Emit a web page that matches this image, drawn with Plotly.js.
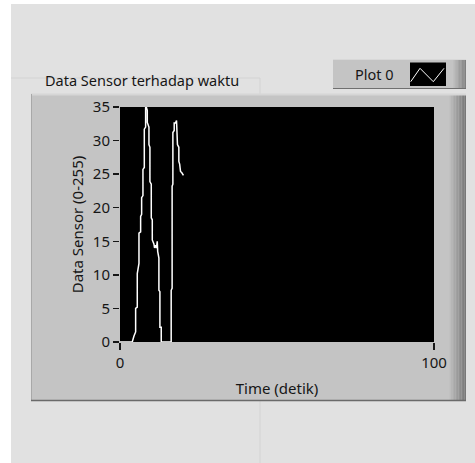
<!DOCTYPE html>
<html>
<head>
<meta charset="utf-8">
<script src="https://cdn.plot.ly/plotly-3.0.1.min.js"></script>
<style>html,body{margin:0;padding:0;background:#fff;}#chart{width:475px;height:463px;}</style>
</head>
<body>
<div id="chart"></div>
<script>
// ---- data ----
const seriesName = "Plot 0";
const chartLabel = "Data Sensor terhadap waktu";
const xTitle = "Time (detik)";
const yTitle = "Data Sensor (0-255)";
const xTickVals = [0, 100];
const timeSec = [0, 3.9, 4.45, 4.98, 4.98, 5.5, 5.5, 6.04, 6.04, 6.57, 6.57, 6.89, 6.89, 7.31, 7.31, 7.74, 7.74, 8.16, 8.16, 8.37,
  8.69, 8.69, 9.22, 9.22, 9.53, 9.53, 9.96, 9.96, 10.28, 10.28, 10.8, 11.0, 11.33, 11.6, 11.86, 12.0, 12.39, 12.39, 12.71, 12.71,
  13.13, 13.13, 13.45, 16.3, 16.3, 16.6, 16.6, 16.84, 16.84, 17.26, 17.26, 17.68, 18.0, 18.1, 18.3, 18.3, 18.74, 18.74, 19.0, 19.27, 19.69, 20.2];
const sensorVal = [0, 0, 0.9, 1.5, 5.0, 5.2, 10.2, 11.7, 16.2, 16.4, 18.7, 19.0, 21.5, 21.8, 25.7, 26.0, 31.7, 32.0, 34.9, 35.0,
  34.5, 32.7, 32.0, 29.4, 29.0, 23.9, 23.5, 18.5, 18.2, 15.2, 14.6, 14.0, 14.4, 14.0, 15.0, 13.5, 12.5, 7.7, 7.5, 2.2,
  2.2, 0, 0, 0, 7.7, 8.0, 23.2, 23.5, 31.2, 31.5, 32.6, 32.6, 33.0, 31.8, 31.5, 29.4, 29.0, 26.9, 26.5, 25.4, 25.2, 24.8];

// ---- geometry helpers (pixel -> paper) ----
const W = 475, H = 463;
const M = {l: 120, r: 41, t: 107, b: 121};
const PW = W - M.l - M.r, PH = H - M.t - M.b;
const X = px => (px - M.l) / PW;
const Y = py => (H - M.b - py) / PH;
const FONT = "'Noto Sans', 'Open Sans', sans-serif";
const TXT = "#161616";

function rect(x0, y0, x1, y1, fill, extra) {
  return Object.assign({type: "rect", xref: "paper", yref: "paper", layer: "below",
    x0: X(x0), x1: X(x1), y0: Y(y1), y1: Y(y0), fillcolor: fill, line: {width: 0}}, extra || {});
}
function line(x0, y0, x1, y1, color, w) {
  return {type: "line", xref: "paper", yref: "paper", layer: "below",
    x0: X(x0), x1: X(x1), y0: Y(y0), y1: Y(y1), line: {color: color, width: w || 1}};
}
function gradient(x0, x1, y0, y1, c0, c1, n) {
  const out = [];
  for (let i = 0; i < n; i++) {
    const t = i / (n - 1);
    const c = Math.round(c0 + (c1 - c0) * t);
    const a = x0 + (x1 - x0) * i / n, b = x0 + (x1 - x0) * (i + 1) / n;
    out.push(rect(a, y0, b, y1, `rgb(${c},${c},${c})`));
  }
  return out;
}

const shapes = [];
// white strips at the screenshot edges
shapes.push(rect(0, 0, 11, H, "#ffffff"));
shapes.push(rect(0, 0, W, 4, "#ffffff"));
// faint panel guide lines
shapes.push(line(11, 78, 260, 78, "#d3d3d3"));
shapes.push(line(260, 78, 260, H, "#d3d3d3"));
// legend box
shapes.push(rect(333, 59, 466, 89, "#c4c4c4"));
shapes.push(...gradient(452, 466, 59, 89, 196, 128, 10));
shapes.push(line(333, 59.5, 466, 59.5, "#d8d8d8"));
shapes.push(line(333, 88.5, 466, 88.5, "#6f6f6f"));
shapes.push(rect(410, 62.5, 446, 86, "#000000"));
shapes.push({type: "path", xref: "paper", yref: "paper", layer: "below",
  path: `M${X(410.7)},${Y(81.7)} L${X(420)},${Y(68.3)} L${X(433.3)},${Y(81.7)} L${X(444)},${Y(68.3)}`,
  line: {color: "#ffffff", width: 1}});
// chart frame
shapes.push(rect(31, 94, 466, 401, "#c4c4c4"));
shapes.push(...gradient(448, 466, 94, 401, 196, 120, 12));
shapes.push(line(31, 94.5, 466, 94.5, "#d6d6d6", 2));
shapes.push(line(31.5, 94, 31.5, 401, "#a8a8a8"));
shapes.push(line(31, 400.5, 466, 400.5, "#6a6a6a", 1.5));
// plot area
shapes.push(rect(M.l, M.t, W - M.r, H - M.b, "#000000"));

const annotations = [
  {xref: "paper", yref: "paper", x: X(43), y: Y(80), xanchor: "left", yanchor: "middle",
   text: chartLabel, showarrow: false, font: {family: FONT, size: 14.5, color: TXT}},
  {xref: "paper", yref: "paper", x: X(374.5), y: Y(74), xanchor: "center", yanchor: "middle",
   text: seriesName, showarrow: false, font: {family: FONT, size: 14.5, color: TXT}}
];

const trace = {
  x: timeSec, y: sensorVal, type: "scatter", mode: "lines", name: seriesName,
  line: {color: "#ffffff", width: 1.5}, hoverinfo: "skip"
};

const axisFont = {family: FONT, size: 15, color: TXT};
const layout = {
  width: W, height: H, margin: M, showlegend: false,
  paper_bgcolor: "#e1e1e1", plot_bgcolor: "#000000",
  xaxis: {range: [0, 100], tickvals: xTickVals, ticks: "outside", ticklen: 7, tickwidth: 1.5, tickcolor: TXT,
    showgrid: false, zeroline: false, showline: false, tickfont: axisFont, fixedrange: true,
    title: {text: xTitle, font: axisFont, standoff: 12}},
  yaxis: {range: [0, 35], tick0: 0, dtick: 5, ticks: "outside", ticklen: 6, tickwidth: 1.5, tickcolor: TXT,
    showgrid: false, zeroline: false, showline: false, tickfont: axisFont, fixedrange: true,
    title: {text: yTitle, font: axisFont, standoff: 5}},
  shapes: shapes, annotations: annotations
};

Plotly.newPlot("chart", [trace], layout, {staticPlot: true, displayModeBar: false});
</script>
</body>
</html>
